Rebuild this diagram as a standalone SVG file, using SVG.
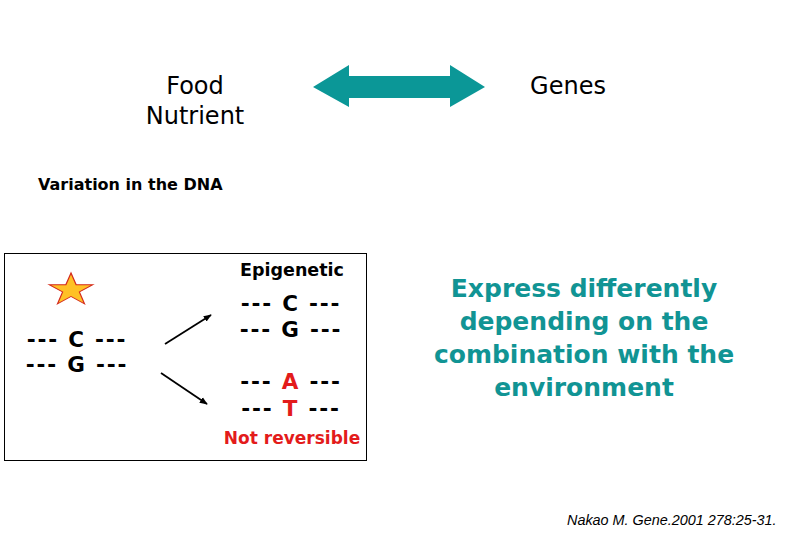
<svg xmlns="http://www.w3.org/2000/svg" width="811" height="540" viewBox="0 0 811 540">
<style>
.t{font-family:"DejaVu Sans",Verdana,sans-serif;fill:#000}
.b{font-weight:bold}
.dna{font-family:"DejaVu Sans",Verdana,sans-serif;font-weight:bold;font-size:21.5px;letter-spacing:1.8px;fill:#000;text-anchor:middle}
.red{fill:#e31b1b}
.teal{font-family:"DejaVu Sans",Verdana,sans-serif;font-weight:bold;font-size:25px;fill:#119494;text-anchor:middle}
</style>
<defs>
<marker id="ah" viewBox="0 0 10 10" refX="9" refY="5" markerWidth="8" markerHeight="8" orient="auto" markerUnits="userSpaceOnUse">
<path d="M0,1 L10,5 L0,9 z" fill="#000"/>
</marker>
</defs>
<rect width="811" height="540" fill="#fff"/>
<g id="food"><text class="t" font-size="24" text-anchor="middle"><tspan x="195" y="94">Food</tspan><tspan x="195" y="124">Nutrient</tspan></text></g>
<g id="genes"><text class="t" font-size="24" text-anchor="middle" x="568" y="94">Genes</text></g>
<g id="dblarrow"><path d="M313,87 L349,65 L349,76 L450,76 L450,65 L485,87 L450,107 L450,98 L349,98 L349,107 Z" fill="#0b9797"/></g>
<g id="variation"><text class="t b" font-size="16" x="38" y="190">Variation in the DNA</text></g>
<g id="box">
<rect x="4.5" y="253.5" width="362" height="207" fill="none" stroke="#000" stroke-width="1"/>
<polygon transform="translate(71,290) scale(1.35,1)" points="0,-17 3.8,-5.3 16.2,-5.3 6.2,2 10,13.8 0,6.5 -10,13.8 -6.2,2 -16.2,-5.3 -3.8,-5.3" fill="#ffc125" stroke="#d42a1c" stroke-width="0.9"/>
<text class="dna" x="77" y="347">--- C ---</text>
<text class="dna" x="77" y="372">--- G ---</text>
<text class="t b" font-size="17.5" text-anchor="middle" x="292" y="276">Epigenetic</text>
<text class="dna" x="291" y="311">--- C ---</text>
<text class="dna" x="291" y="337">--- G ---</text>
<text class="dna" x="291" y="389">--- <tspan class="red">A</tspan> ---</text>
<text class="dna" x="291" y="416">--- <tspan class="red">T</tspan> ---</text>
<text class="t b red" font-size="17" text-anchor="middle" x="292" y="444">Not reversible</text>
</g>
<g id="connectors" stroke="#000" stroke-width="1.8" fill="none">
<line x1="165" y1="344" x2="211" y2="315" marker-end="url(#ah)"/>
<line x1="161" y1="373" x2="207" y2="404" marker-end="url(#ah)"/>
</g>
<g id="express"><text class="teal"><tspan x="584" y="297">Express differently</tspan><tspan x="584" y="330">depending on the</tspan><tspan x="584" y="363">combination with the</tspan><tspan x="584" y="396">environment</tspan></text></g>
<g id="cite"><text font-family="Liberation Sans,Arial,sans-serif" font-style="italic" font-size="14.4" x="567" y="525" fill="#000">Nakao M. Gene.2001 278:25-31.</text></g>
</svg>
